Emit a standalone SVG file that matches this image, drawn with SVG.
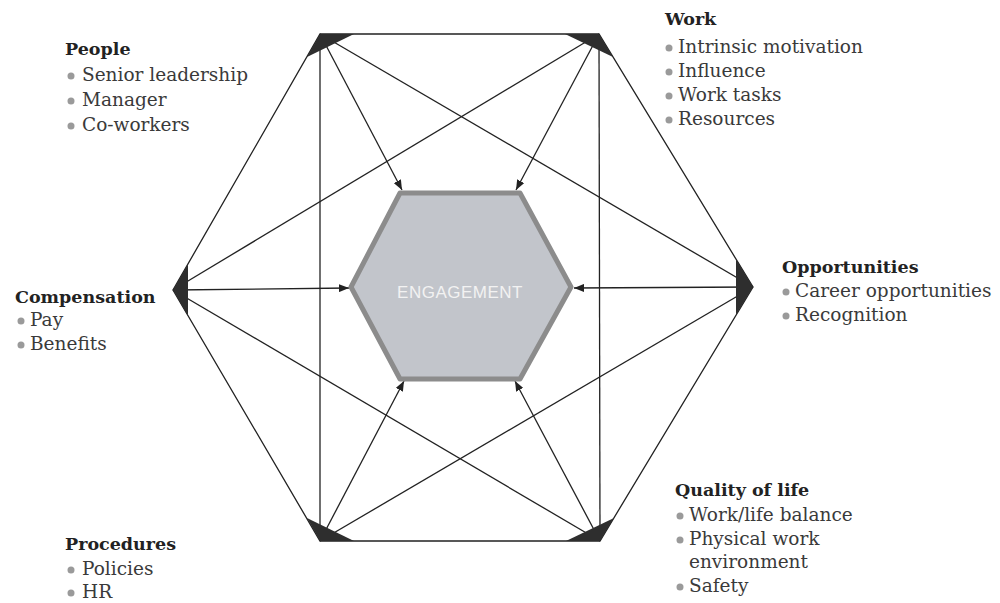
<svg xmlns="http://www.w3.org/2000/svg" width="1000" height="603" viewBox="0 0 1000 603">
<style>
.edge{stroke:#222;stroke-width:1.3;fill:none}
.arr{stroke:#222;stroke-width:1.3;fill:none;marker-end:url(#ah)}
.corner{fill:#2e2e2e}
.hd{font-family:"DejaVu Serif",serif;font-weight:bold;font-size:17.5px;fill:#222}
.it{font-family:"DejaVu Serif",serif;font-size:18.5px;fill:#3a3a3a}
.bul{fill:#9a9a9a}
</style>
<defs>
<marker id="ah" viewBox="0 0 10 8" refX="10" refY="4" markerWidth="10" markerHeight="8" markerUnits="userSpaceOnUse" orient="auto">
<path d="M0,0 L10,4 L0,8 Z" fill="#222"/>
</marker>
</defs>
<rect width="1000" height="603" fill="#fff"/>
<g id="connectors">
<polygon class="edge" points="320,34 599,34 753,287 600,541 320,541 173,290"/>
<line class="edge" x1="320" y1="34" x2="320" y2="541"/>
<line class="edge" x1="599" y1="34" x2="600" y2="541"/>
<line class="edge" x1="320" y1="34" x2="753" y2="287"/>
<line class="edge" x1="599" y1="34" x2="173" y2="290"/>
<line class="edge" x1="173" y1="290" x2="600" y2="541"/>
<line class="edge" x1="753" y1="287" x2="320" y2="541"/>
<line class="arr" x1="320" y1="34" x2="402" y2="190"/>
<line class="arr" x1="599" y1="34" x2="516" y2="190"/>
<line class="arr" x1="173" y1="290" x2="349" y2="288"/>
<line class="arr" x1="753" y1="287" x2="574" y2="288"/>
<line class="arr" x1="320" y1="541" x2="404" y2="381"/>
<line class="arr" x1="600" y1="541" x2="515" y2="381"/>
</g>
<g id="engagement">
<polygon points="400,193 520,193 571,287 520,379 400,379 351,287" fill="#c2c5cb" stroke="#8c8c8c" stroke-width="5" stroke-linejoin="round"/>
<text x="460" y="298" text-anchor="middle" font-family="Liberation Sans, sans-serif" font-size="17" letter-spacing="0.5" fill="#f2f2f2">ENGAGEMENT</text>
</g>
<g id="people">
<polygon class="corner" points="320,34 354,34 307,57"/>
<text class="hd" x="65" y="55">People</text>
<circle class="bul" cx="71" cy="76" r="3.5"/><text class="it" x="82" y="81">Senior leadership</text>
<circle class="bul" cx="71" cy="101" r="3.5"/><text class="it" x="82" y="106">Manager</text>
<circle class="bul" cx="71" cy="126" r="3.5"/><text class="it" x="82" y="131">Co-workers</text>
</g>
<g id="work">
<polygon class="corner" points="599,34 565,34 613,57"/>
<text class="hd" x="665" y="25">Work</text>
<circle class="bul" cx="669" cy="48" r="3.5"/><text class="it" x="678" y="53">Intrinsic motivation</text>
<circle class="bul" cx="669" cy="72" r="3.5"/><text class="it" x="678" y="77">Influence</text>
<circle class="bul" cx="669" cy="96" r="3.5"/><text class="it" x="678" y="101">Work tasks</text>
<circle class="bul" cx="669" cy="120" r="3.5"/><text class="it" x="678" y="125">Resources</text>
</g>
<g id="compensation">
<polygon class="corner" points="173,290 188,264 188,316"/>
<text class="hd" x="15" y="303">Compensation</text>
<circle class="bul" cx="21" cy="321" r="3.5"/><text class="it" x="30" y="326">Pay</text>
<circle class="bul" cx="21" cy="345" r="3.5"/><text class="it" x="30" y="350">Benefits</text>
</g>
<g id="opportunities">
<polygon class="corner" points="753,287 736,259 736,315"/>
<text class="hd" x="782" y="273">Opportunities</text>
<circle class="bul" cx="786" cy="292" r="3.5"/><text class="it" x="795" y="297">Career opportunities</text>
<circle class="bul" cx="786" cy="316" r="3.5"/><text class="it" x="795" y="321">Recognition</text>
</g>
<g id="procedures">
<polygon class="corner" points="320,541 354,541 307,518"/>
<text class="hd" x="65" y="550">Procedures</text>
<circle class="bul" cx="71" cy="570" r="3.5"/><text class="it" x="82" y="575">Policies</text>
<circle class="bul" cx="71" cy="593" r="3.5"/><text class="it" x="82" y="598">HR</text>
</g>
<g id="quality">
<polygon class="corner" points="600,541 566,541 614,518"/>
<text class="hd" x="675" y="496">Quality of life</text>
<circle class="bul" cx="680" cy="516" r="3.5"/><text class="it" x="689" y="521">Work/life balance</text>
<circle class="bul" cx="680" cy="540" r="3.5"/><text class="it" x="689" y="545">Physical work</text>
<text class="it" x="689" y="568">environment</text>
<circle class="bul" cx="680" cy="587" r="3.5"/><text class="it" x="689" y="592">Safety</text>
</g>
</svg>
